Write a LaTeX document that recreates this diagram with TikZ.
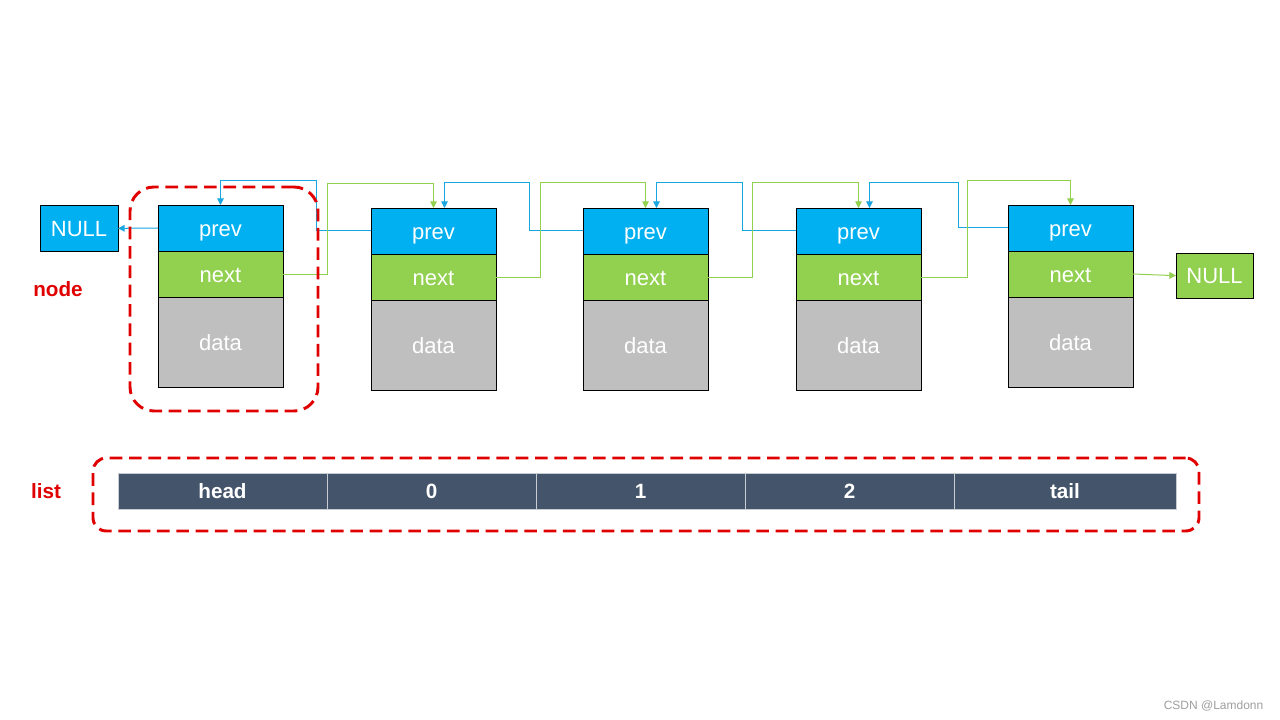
\documentclass[tikz,border=0pt]{standalone}
\usepackage{fontspec}
\setmainfont{Liberation Sans}
\usetikzlibrary{arrows.meta,calc}
\definecolor{cblue}{HTML}{00B0F0}
\definecolor{cgreen}{HTML}{92D050}
\definecolor{cgray}{HTML}{BFBFBF}
\definecolor{cslate}{HTML}{44546A}
\definecolor{cred}{HTML}{E00000}
\definecolor{lblue}{HTML}{1AA7E0}
\definecolor{lgreen}{HTML}{92D050}
\begin{document}
\begin{tikzpicture}[x=0.75pt,y=-0.75pt,
  cell/.style={draw=black, line width=0.6pt, outer sep=0pt, minimum width=93.75pt, inner sep=0pt,
    font=\fontsize{16.5}{18}\selectfont, text=white, anchor=north west,
    text height=14.5pt, text depth=1.4pt},
  nullc/.style={cell, text height=14.8pt, text depth=3pt},
  prevc/.style={cell, fill=cblue, minimum height=34.5pt},
  nextc/.style={cell, fill=cgreen, minimum height=34.5pt, anchor=north},
  datac/.style={cell, fill=cgray, minimum height=67.5pt, anchor=north},
  bl/.style={draw=lblue, line width=0.75pt, -{Triangle[length=5pt,width=5pt]}},
  gr/.style={draw=lgreen, line width=0.75pt, -{Triangle[length=5pt,width=5pt]}},
  reddash/.style={draw=cred, line width=2.2pt, dash pattern=on 9.5pt off 5pt, inner sep=0pt},
  lcell/.style={draw=white!70!cslate, line width=0.6pt, outer sep=0pt, fill=cslate, text=white,
    font=\bfseries\fontsize{15.5}{17}\selectfont, minimum height=27pt, inner sep=0pt,
    anchor=west, minimum width=156.75pt, text height=14pt, text depth=3pt},
  lab/.style={text=cred, font=\bfseries\fontsize{15.5}{17}\selectfont}
]
\useasboundingbox[fill=white] (0,0) rectangle (1280,720);

% nodes
\foreach \i/\x/\y in {1/158/205,2/371/208,3/583/208,4/796/208,5/1008/205}{
  \node[prevc] (p\i) at (\x,\y) {prev};
  \node[nextc] (n\i) at (p\i.south) {next};
  \node[datac] (d\i) at (n\i.south) {data};
}

% NULL boxes
\node[nullc, fill=cblue, minimum width=58.5pt, minimum height=35pt] (nullL) at (40,205) {NULL};
\node[nullc, fill=cgreen, minimum width=57.75pt, minimum height=34pt] (nullR) at (1176,253) {NULL};

% prev links (blue)
\draw[bl] (p1.west) -- (nullL.east);
\draw[bl] (p2.west) -- ++(-55,0) |- ([yshift=18pt]p1.north) -- (p1.north);
\draw[bl] (p3.west) -- ++(-54,0) |- ([xshift=8.25pt,yshift=18.75pt]p2.north) -- ([xshift=8.25pt]p2.north);
\draw[bl] (p4.west) -- ++(-54,0) |- ([xshift=8.25pt,yshift=18.75pt]p3.north) -- ([xshift=8.25pt]p3.north);
\draw[bl] (p5.west) -- ++(-50,0) |- ([xshift=8.25pt,yshift=18.75pt]p4.north) -- ([xshift=8.25pt]p4.north);

% next links (green)
\draw[gr] (n1.east) -- ++(44,0) |- ([yshift=18pt]p2.north) -- (p2.north);
\draw[gr] (n2.east) -- ++(44,0) |- ([yshift=18.75pt]p3.north) -- (p3.north);
\draw[gr] (n3.east) -- ++(44,0) |- ([yshift=18.75pt]p4.north) -- (p4.north);
\draw[gr] (n4.east) -- ++(46,0) |- ([yshift=18pt]p5.north) -- (p5.north);
\draw[gr] (n5.east) -- (nullR.west);

% red dashed groups
\node[reddash, rounded corners=18pt, minimum width=141pt, minimum height=168pt] (nodebox) at (224,299) {};
\node[reddash, rounded corners=10pt, minimum width=829.5pt, minimum height=54.75pt] (listbox) at (646,494.5) {};

% labels
\node[lab] (lnode) at (58,289) {node};
\node[lab] (llist) at (46,491) {list};

% list bar
\node[lcell] (lh) at (118,491) {head};
\node[lcell] (l0) at (lh.east) {0};
\node[lcell] (l1) at (l0.east) {1};
\node[lcell] (l2) at (l1.east) {2};
\node[lcell, minimum width=166.5pt] (lt) at (l2.east) {tail};

% watermark
\node[text=gray!75, font=\fontsize{9}{10}\selectfont, anchor=east] (wm) at (1268,706) {CSDN @Lamdonn};
\end{tikzpicture}
\end{document}
